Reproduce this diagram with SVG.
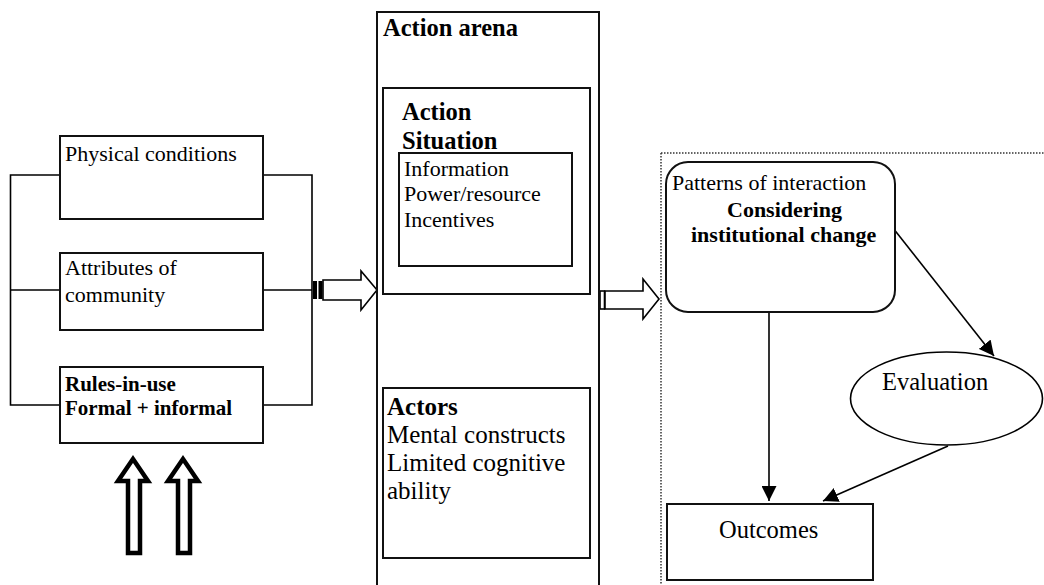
<svg xmlns="http://www.w3.org/2000/svg" width="1044" height="585" viewBox="0 0 1044 585">
  <defs>
    <marker id="arrowhead" viewBox="0 0 12 10" refX="12" refY="5" markerWidth="12" markerHeight="10" markerUnits="userSpaceOnUse" orient="auto">
      <path d="M0,0 L12,5 L0,10 Z" fill="#000"/>
    </marker>
    <marker id="arrowhead-lg" viewBox="0 0 15 15" refX="15" refY="7.5" markerWidth="15" markerHeight="15" markerUnits="userSpaceOnUse" orient="auto">
      <path d="M0,0 L15,7.5 L0,15 Z" fill="#000"/>
    </marker>
  </defs>
  <style>
    text { font-family: "Liberation Serif", "Times New Roman", serif; fill: #000; }
    .box { fill: #fff; stroke: #111; stroke-width: 2; }
    .wire { fill: none; stroke: #000; stroke-width: 1.6; }
    .block { fill: #fff; stroke: #000; stroke-width: 1.6; stroke-linejoin: miter; }
    .thick { fill: #fff; stroke: #000; stroke-width: 4.5; stroke-linejoin: miter; }
    .dots { fill: none; stroke: #333; stroke-width: 1.5; stroke-dasharray: 1.5 1.5; }
    .r22 { font-size: 22px; }
    .b21 { font-size: 21px; font-weight: bold; }
    .b24 { font-size: 24.5px; font-weight: bold; }
    .r25 { font-size: 25px; }
    .b22 { font-size: 22px; font-weight: bold; }
  </style>
  <rect width="1044" height="585" fill="#fff"/>

  <!-- outcome panel frame (dotted) -->
  <path class="dots" d="M661,153 L1044,153 M661,153 L661,585"/>

  <!-- connectors -->
  <g id="connectors">
    <!-- bracket joining the three attribute boxes -->
    <path class="wire" d="M60,175 L10.5,175 L10.5,405 L60,405 M10.5,290 L60,290"/>
    <path class="wire" d="M263,175 L312,175 L312,405 L263,405 M263,290 L312,290"/>
    <!-- striped block arrow into the action arena -->
    <rect x="313" y="281" width="4" height="18" fill="#000"/>
    <rect x="318.5" y="281" width="4" height="18" fill="#000"/>
    <path class="block" d="M323,280 L361,280 L361,271 L377,290 L361,310 L361,300 L323,300 Z"/>
    <!-- two-way arrow between situation and actors -->
    <path class="block" d="M487,303 L510,318 L498,318 L498,363 L510,363 L487,378 L464,363 L477,363 L477,318 L464,318 Z"/>
    <!-- striped block arrow out of the action arena -->
    <rect class="block" x="600" y="291" width="4.5" height="18"/>
    <path class="block" d="M605,291 L643,291 L643,279 L659,299 L643,319 L643,309 L605,309 Z"/>
    <!-- interaction to evaluation and outcomes -->
    <line class="wire" x1="893" y1="228" x2="994" y2="356" marker-end="url(#arrowhead-lg)"/>
    <line class="wire" x1="769" y1="312" x2="769" y2="501" marker-end="url(#arrowhead-lg)"/>
    <line class="wire" x1="948" y1="446" x2="823" y2="501" marker-end="url(#arrowhead-lg)"/>
    <!-- bold upward arrows under the rules box -->
    <path class="thick" d="M133,459 L148,481 L140,481 L140,553 L128,553 L128,481 L118,481 Z"/>
    <path class="thick" d="M183,459 L198,481 L190,481 L190,553 L178,553 L178,481 L168,481 Z"/>
  </g>

  <g id="physical-conditions">
    <rect class="box" x="60" y="136" width="203" height="83"/>
    <text class="r22" x="65" y="161">Physical conditions</text>
  </g>

  <g id="attributes-of-community">
    <rect class="box" x="60" y="253" width="203" height="77"/>
    <text class="r22" x="65" y="275">Attributes of</text>
    <text class="r22" x="65" y="302">community</text>
  </g>

  <g id="rules-in-use">
    <rect class="box" x="60" y="367" width="203" height="76"/>
    <text class="b21" x="65" y="391">Rules-in-use</text>
    <text class="b21" x="65" y="415">Formal + informal</text>
  </g>

  <g id="action-arena">
    <rect class="box" x="377" y="12" width="222" height="585"/>
    <text class="b24" x="383" y="36">Action arena</text>
  </g>

  <g id="action-situation">
    <rect class="box" x="383" y="88" width="207" height="206"/>
    <text class="b24" x="402" y="120">Action</text>
    <text class="b24" x="402" y="149">Situation</text>
  </g>

  <g id="situation-factors">
    <rect class="box" x="399" y="153" width="173" height="113"/>
    <text class="r22" x="404" y="176">Information</text>
    <text class="r22" x="404" y="201">Power/resource</text>
    <text class="r22" x="404" y="227">Incentives</text>
  </g>

  <g id="actors">
    <rect class="box" x="383" y="388" width="207" height="170"/>
    <text class="b24" x="387" y="415" style="font-size:25px">Actors</text>
    <text class="r25" x="387" y="443">Mental constructs</text>
    <text class="r25" x="387" y="471">Limited cognitive</text>
    <text class="r25" x="387" y="499">ability</text>
  </g>

  <g id="patterns-of-interaction">
    <rect class="box" x="666" y="162" width="229" height="150" rx="22" ry="22"/>
    <text class="r22" x="672" y="190">Patterns of interaction</text>
    <text class="b22" x="727" y="217">Considering</text>
    <text class="b22" x="691" y="242">institutional change</text>
  </g>

  <g id="evaluation">
    <ellipse cx="946.5" cy="398.5" rx="96" ry="46.5" fill="#fff" stroke="#000" stroke-width="1.6"/>
    <text class="r25" x="882" y="390" style="font-size:24.5px">Evaluation</text>
  </g>

  <g id="outcomes">
    <rect class="box" x="667" y="504" width="206" height="76"/>
    <text class="r25" x="719" y="538" style="font-size:24.5px">Outcomes</text>
  </g>
</svg>
